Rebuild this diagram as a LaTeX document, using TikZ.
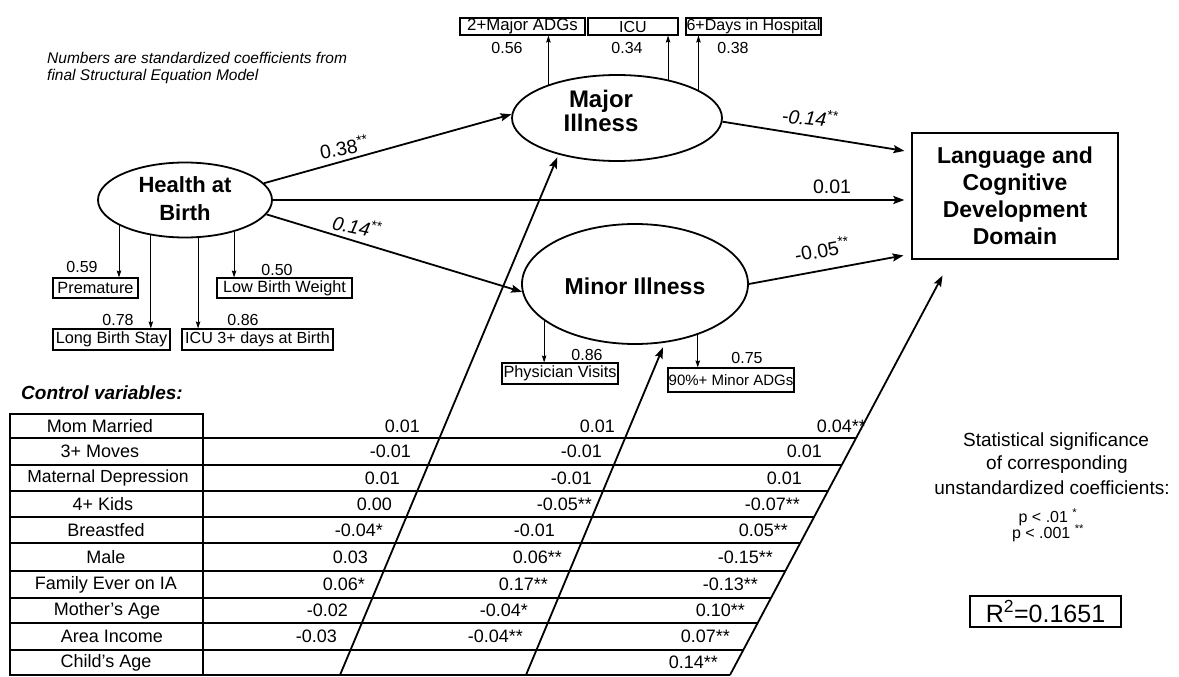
\documentclass[tikz,border=0pt]{standalone}
\usepackage{fontspec}
\setmainfont{Liberation Sans}
\usetikzlibrary{shapes.geometric,arrows.meta,calc}
\begin{document}
\begin{tikzpicture}[x=1pt,y=-1pt,
  lbl/.style={font=\fontsize{16}{19}\selectfont, inner sep=0},
  plbl/.style={font=\fontsize{19.5}{22}\selectfont, inner sep=0},
  iplbl/.style={font=\itshape\fontsize{19.5}{22}\selectfont, inner sep=0},
  ibox/.style={draw, line width=1.1pt, inner sep=0, font=\fontsize{16.3}{19}\selectfont, minimum height=20pt},
  tbox/.style={draw, line width=1.1pt, inner sep=0, font=\fontsize{16}{18}\selectfont, minimum height=17pt},
  lat/.style={draw, ellipse, line width=1.8pt, inner sep=0},
  lattxt/.style={font=\bfseries\fontsize{23}{24}\selectfont, align=center, inner sep=0},
  mainarr/.style={line width=1.8pt, -{Stealth[length=11pt,width=8pt,inset=2pt]}},
  ind/.style={line width=0.9pt, -{Stealth[length=7pt,width=4.5pt,inset=1pt]}},
  tline/.style={line width=1.2pt},
  rowlbl/.style={font=\fontsize{18}{20}\selectfont, inner sep=0},
  val/.style={font=\fontsize{18}{20}\selectfont, inner sep=0, anchor=east},
  leg/.style={font=\fontsize{19}{22}\selectfont, inner sep=0},
  sig/.style={font=\fontsize{16}{18}\selectfont, inner sep=0}
]
\useasboundingbox (0,0) rectangle (1179,677);

% note
\node[anchor=west, font=\itshape\fontsize{15.5}{17}\selectfont, align=left, inner sep=0] (note) at (47,68)
  {Numbers are standardized coefficients from\\final Structural Equation Model};

% latent variables
\node[lat, minimum width=174pt, minimum height=75pt] (health) at (185,200) {};
\node[lattxt, font=\bfseries\fontsize{22}{28}\selectfont] (healthtxt) at (185,199) {Health at\\Birth};
\node[lat, minimum width=210pt, minimum height=86pt] (major) at (617,118) {};
\node[lattxt, font=\bfseries\fontsize{24}{24}\selectfont] (majortxt) at (601,111) {Major\\Illness};
\node[lat, minimum width=226pt, minimum height=120pt] (minor) at (635,284) {};
\node[lattxt] (minortxt) at (635,286) {Minor Illness};

% outcome
\node[draw, line width=1.3pt, minimum width=206pt, minimum height=126pt, inner sep=0,
      font=\bfseries\fontsize{23}{27}\selectfont, align=center] (lang) at (1015,196)
  {Language and\\Cognitive\\Development\\Domain};

% major illness indicators
\node[tbox, font=\fontsize{16.8}{18}\selectfont, minimum width=125pt] (b2maj) at (522.5,26.5) {2+Major ADGs};
\node[tbox, minimum width=90pt] (bicu) at (633,26.5) {ICU};
\node[tbox, minimum width=135pt] (bdays) at (753.5,26.5) {6+Days in Hospital};
\draw[ind] (major.154.3) -- (major.154.3 |- b2maj.south);
\draw[ind] (major.37.1) -- (major.37.1 |- bicu.south);
\draw[ind] (major.19.7) -- (major.19.7 |- bdays.south);
\node[lbl] (l056) at (507,48) {0.56};
\node[lbl] (l034) at (627,48) {0.34};
\node[lbl] (l038) at (733,48) {0.38};

% health at birth indicators
\node[ibox, minimum width=85pt] (prem) at (95.5,288) {Premature};
\node[ibox, minimum width=117pt, minimum height=21pt] (lbs) at (111.5,339.5) {Long Birth Stay};
\node[ibox, minimum width=151pt, minimum height=21pt, font=\fontsize{16.1}{19}\selectfont] (icu3) at (257.5,339.5) {ICU 3+ days at Birth};
\node[ibox, minimum width=135pt] (lbw) at (284.5,288) {Low Birth Weight};
\draw[ind] (health.201.6) -- (health.201.6 |- prem.north);
\draw[ind] (health.226.4) -- (health.226.4 |- lbs.north);
\draw[ind] (health.289.3) -- (health.289.3 |- icu3.north);
\draw[ind] (health.327.7) -- (health.327.7 |- lbw.north);
\node[lbl] (l059) at (82,267) {0.59};
\node[lbl] (l078) at (118,320) {0.78};
\node[lbl] (l086a) at (243,320) {0.86};
\node[lbl] (l050) at (277,270) {0.50};

% minor illness indicators
\node[ibox, minimum width=116pt, minimum height=21pt] (phys) at (560,373.5) {Physician Visits};
\node[ibox, font=\fontsize{15}{18}\selectfont, minimum width=126pt, minimum height=24pt] (minadg) at (731,380) {90\%+ Minor ADGs};
\draw[ind] (minor.202) -- (minor.202 |- phys.north);
\draw[ind] (minor.321.7) -- (minor.321.7 |- minadg.north);
\node[lbl] (l086b) at (587,355) {0.86};
\node[lbl] (l075) at (747,358) {0.75};

% structural paths
\draw[mainarr] (health.12) -- (major.178);
\draw[mainarr, shorten >=7pt] (health.east) -- (health.east -| lang.west);
\draw[mainarr] (health.-10) -- (minor.184);
\draw[mainarr, shorten >=7pt] (major.-2) -- ([yshift=44pt]lang.west);
\draw[mainarr, shorten >=8pt] (minor.east) -- ([yshift=-58pt]lang.west);
\node[plbl, rotate=10] (p038) at (344,147) {0.38\textsuperscript{**}};
\node[iplbl, rotate=-12] (p014) at (357,226) {0.14\textsuperscript{**}};
\node[plbl] (p001) at (832,187) {0.01};
\node[iplbl, rotate=-6] (pm014) at (810,117) {-0.14\textsuperscript{**}};
\node[plbl, rotate=10] (pm005) at (822,249) {-0.05\textsuperscript{**}};

% control variables table
\node[anchor=west, font=\bfseries\itshape\fontsize{19}{21}\selectfont, inner sep=0] (ctitle) at (21,393) {Control variables:};
\draw[tline] (10,414) rectangle (203,675);
\foreach \yy in {438,465,491,517,543,571,598,623,650} \draw[tline] (10,\yy) -- (203,\yy);
\foreach \yy/\xx in {438/856.2,465/841.8,491/828.0,517/814.1,543/800.3,571/785.4,598/771.0,623/757.7,650/743.3,675/730}
  \draw[tline] (203,\yy) -- (\xx,\yy);

\node[rowlbl] (r1) at (100,426) {Mom Married};
\node[rowlbl] (r2) at (100,451.5) {3+ Moves};
\node[rowlbl, font=\fontsize{17.5}{20}\selectfont] (r3) at (108,478) {Maternal Depression};
\node[rowlbl] (r4) at (103,504) {4+ Kids};
\node[rowlbl] (r5) at (106,530) {Breastfed};
\node[rowlbl] (r6) at (106,557) {Male};
\node[rowlbl] (r7) at (106,584.5) {Family Ever on IA};
\node[rowlbl] (r8) at (107,610.5) {Mother's Age};
\node[rowlbl] (r9) at (112,636.5) {Area Income};
\node[rowlbl] (r10) at (106,662.5) {Child's Age};

% column 1 (to Major Illness)
\node[val] (a1) at (420,426) {0.01};
\node[val] (a2) at (411,451.5) {-0.01};
\node[val] (a3) at (400,478) {0.01};
\node[val] (a4) at (392,504) {0.00};
\node[val] (a5) at (383,530) {-0.04*};
\node[val] (a6) at (368,557) {0.03};
\node[val] (a7) at (365,584.5) {0.06*};
\node[val] (a8) at (348,610.5) {-0.02};
\node[val] (a9) at (337,636.5) {-0.03};
% column 2 (to Minor Illness)
\node[val] (b1) at (615,426) {0.01};
\node[val] (b2) at (602,451.5) {-0.01};
\node[val] (b3) at (592,478) {-0.01};
\node[val] (b4) at (592,504) {-0.05**};
\node[val] (b5) at (555,530) {-0.01};
\node[val] (b6) at (562,557) {0.06**};
\node[val] (b7) at (548,584.5) {0.17**};
\node[val] (b8) at (528,610.5) {-0.04*};
\node[val] (b9) at (523,636.5) {-0.04**};
% column 3 (to outcome)
\node[val] (c1v) at (866,426) {0.04**};
\node[val] (c2v) at (822,451.5) {0.01};
\node[val] (c3v) at (802,478) {0.01};
\node[val] (c4v) at (800,504) {-0.07**};
\node[val] (c5v) at (788,530) {0.05**};
\node[val] (c6v) at (773,557) {-0.15**};
\node[val] (c7v) at (758,584.5) {-0.13**};
\node[val] (c8v) at (745,610.5) {0.10**};
\node[val] (c9v) at (730,636.5) {0.07**};
\node[val] (c10v) at (718,662.5) {0.14**};

% diagonal connectors from the table
\coordinate (d1) at (340,675);
\coordinate (d2) at (526,675);
\coordinate (d3) at (730,675);
\draw[mainarr, shorten >=3pt] (d1) -- (major.212);
\draw[mainarr, shorten >=5pt] (d2) -- (minor.-63);
\draw[mainarr, shorten >=18pt] (d3) -- ([xshift=-64pt]lang.south);

% legend
\node[leg] (s1) at (1056,442) {Statistical significance};
\node[leg] (s2) at (1057,465) {of corresponding};
\node[leg] (s3) at (1052,488) {unstandardized coefficients:};
\node[sig] (p1) at (1048,517) {p < .01 \textsuperscript{*}};
\node[sig] (p2) at (1048,533) {p < .001 \textsuperscript{**}};
\node[draw, line width=1.2pt, minimum width=151pt, minimum height=31pt, inner sep=0,
      font=\fontsize{25}{28}\selectfont] (r2box) at (1045.5,611.5) {R\textsuperscript{2}=0.1651};
\end{tikzpicture}
\end{document}
